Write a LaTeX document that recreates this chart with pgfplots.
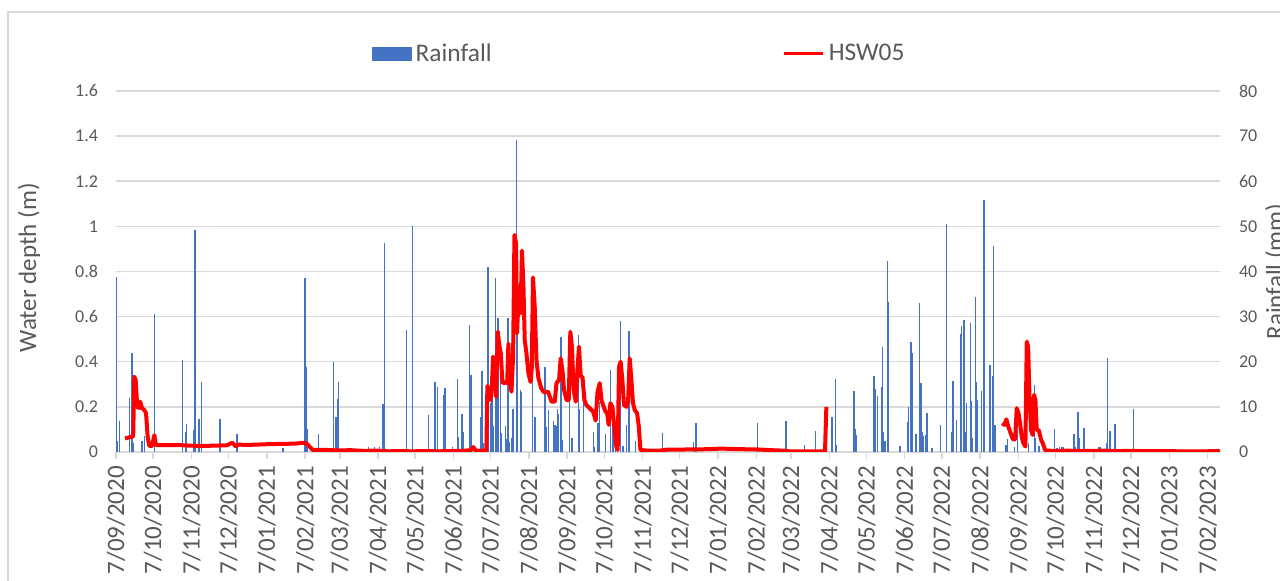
\documentclass[border=0pt]{standalone}
\usepackage{fontspec}
\setmainfont{Carlito}
\usepackage{pgfplots}
\pgfplotsset{compat=1.18}
\definecolor{rainblue}{HTML}{4472C4}
\definecolor{gridgray}{HTML}{D9D9D9}
\definecolor{txtgray}{HTML}{595959}
\begin{document}
\begin{tikzpicture}[x=1pt,y=1pt]
\useasboundingbox (0,0) rectangle (640,290.5);
\draw[gridgray, line width=1pt] (4,-20) -- (4,284.5) -- (700,284.5);
\begin{axis}[
  at={(58pt,64.5pt)}, anchor=south west,
  scale only axis, width=552pt, height=180.5pt,
  xmin=0, xmax=893, ymin=0, ymax=80,
  axis x line*=bottom, axis y line*=right,
  x axis line style={gridgray, line width=0.75pt},
  y axis line style={draw=none},
  tick align=outside, major tick length=3.5pt,
  xtick={0,30,61,91,122,153,181,212,242,273,303,334,365,395,426,456,487,518,546,577,607,638,668,699,730,760,791,821,852,883},
  xticklabels={7/09/2020,7/10/2020,7/11/2020,7/12/2020,7/01/2021,7/02/2021,7/03/2021,7/04/2021,7/05/2021,7/06/2021,7/07/2021,7/08/2021,7/09/2021,7/10/2021,7/11/2021,7/12/2021,7/01/2022,7/02/2022,7/03/2022,7/04/2022,7/05/2022,7/06/2022,7/07/2022,7/08/2022,7/09/2022,7/10/2022,7/11/2022,7/12/2022,7/01/2023,7/02/2023},
  xtick style={gridgray, line width=0.75pt},
  ytick={0,10,20,30,40,50,60,70,80}, ytick style={draw=none},
  ymajorgrids, grid style={gridgray, line width=0.75pt},
  xticklabel style={rotate=90, anchor=east, font=\fontsize{12.5}{12.5}\selectfont, text=txtgray},
  yticklabel style={font=\fontsize{9}{9}\selectfont, text=txtgray, xshift=2.5pt},
  /pgf/number format/assume math mode=true,
  ylabel={Rainfall (mm)},
  ylabel style={at={(rel axis cs:1.0507,0.5)}, anchor=center, rotate=0, font=\fontsize{12.5}{12.5}\selectfont, text=txtgray},
]
\addplot[ycomb, rainblue, line width=0.7pt, mark=none] coordinates {
(0,38.8) (1,2.4) (3,6.9) (11,12) (13,22) (14,2) (21,2.4) (23,3.5) (31,30.6)
(54,20.4) (56,4.4) (57,6.2) (63,4.9) (64,49.2) (67,7.3) (69,15.5) (84,7.3) (98,4) (135,0.8)
(153,38.6) (154,18.8) (155,5) (164,4) (176,20) (178,7.8) (179,11.7) (180,15.5) (204,1.2) (209,1) (213,1.2)
(216,10.6) (217,46.3) (235,27) (240,50) (253,8.2) (258,15.5) (260,14.4) (265,12.6) (266,14.2) (272,1)
(276,16.2) (277,3.3) (280,8.4) (281,4.4) (286,28.2) (287,17) (295,7.8) (296,18) (297,2)
(301,41) (303,10.8) (304,16.2) (305,5.8) (307,38.6) (308,12) (309,29.7) (311,22) (312,4.2)
(315,5.8) (316,2.9) (317,29.7) (318,2.2) (320,3.1) (321,9.5) (324,69.2) (325,26) (327,13.8) (328,13.4)
(337,19.7) (339,7.8) (347,18.8) (348,5.5) (350,9.3) (354,6.9) (355,6) (356,5.8) (357,9.5) (358,8.4)
(360,25.5) (361,2.7) (367,13.3) (369,3.1) (374,26) (375,9.5) (378,11.3) (386,4.4) (387,1) (390,6.4) (391,11)
(396,4) (400,18.2) (402,8.2) (404,3.8) (408,29) (410,1.3) (413,6) (415,26.8) (420,2.4) (442,4.2)
(467,2.2) (469,6.4) (519,6.4) (542,6.9) (557,1.5) (566,4.6) (579,7.8) (582,16.2) (583,1.5)
(597,13.5) (598,5) (599,3.8) (613,16.9) (614,14) (616,12.5) (619,14.4) (620,23.3) (621,4.4) (622,2.4)
(624,42.3) (625,33.3) (634,1.3) (640,6.6) (641,10) (643,24.4) (644,22) (647,4) (650,33) (651,15.3)
(652,4.4) (653,3.5) (655,3.8) (656,8.6) (660,0.8) (667,6) (672,50.6) (676,4.4) (677,15.7) (680,7)
(683,26.2) (684,28) (686,29.3) (687,4.4) (688,10.9) (691,28.6) (692,11.3) (693,3.1) (695,34.4) (696,15.5)
(697,11.5) (700,13.5) (702,55.9) (707,19.3) (709,16.9) (710,45.7) (711,6) (720,1.5) (721,2.9) (727,1)
(729,5) (738,2.1) (743,14.9) (744,3.1) (746,1.3) (747,1.3) (759,5) (761,0.8) (763,1) (765,1.2) (766,1.2)
(775,4) (776,1) (778,8.8) (779,3) (783,5.3) (795,1) (796,1.2) (801,2) (802,20.8) (804,4.6) (808,6.2)
(823,9.5) (856,0.7)
};
\end{axis}
\begin{axis}[
  at={(58pt,64.5pt)}, anchor=south west,
  scale only axis, width=552pt, height=180.5pt,
  xmin=0, xmax=893, ymin=0, ymax=1.6,
  axis x line=none, axis y line*=left,
  y axis line style={draw=none},
  tick align=outside, major tick length=3.5pt,
  ytick={0,0.2,0.4,0.6,0.8,1,1.2,1.4,1.6}, ytick style={draw=none},
  yticklabels={0,0.2,0.4,0.6,0.8,1,1.2,1.4,1.6},
  yticklabel style={font=\fontsize{9}{9}\selectfont, text=txtgray, xshift=-2pt},
  ylabel={Water depth (m)},
  ylabel style={at={(rel axis cs:-0.0788,0.51)}, anchor=center, font=\fontsize{12.5}{12.5}\selectfont, text=txtgray},
  legend columns=2,
  legend style={draw=none, fill=none, at={(0.2260,1.1025)}, anchor=west,
    font=\fontsize{12.7}{12.7}\selectfont, text=txtgray,
    /tikz/every even column/.append style={column sep=143.5pt}},
]
\addlegendimage{legend image code/.code={\fill[rainblue] (0pt,-3.25pt) rectangle (19.5pt,3.25pt);}}
\addlegendentry{Rainfall}
\addplot[red, line width=2pt, mark=none, line join=round,
  legend image code/.code={\draw[red, line width=1.5pt] (0pt,0pt) -- (19.5pt,0pt);}] coordinates {
(7.3,0.06) (12.7,0.068) (13.9,0.068) (14.8,0.334) (15.9,0.32) (17.2,0.2) (18.6,0.195) (19.6,0.223)
(21,0.195) (22.9,0.186) (24.3,0.172) (25.6,0.068) (26.9,0.027) (29.3,0.027) (31,0.075) (32.3,0.031)
(40,0.03) (50,0.031) (60,0.028) (70,0.027) (80,0.028) (90,0.03) (94,0.041) (97,0.025) (99,0.033)
(105,0.031) (115,0.033) (125,0.035) (135,0.036) (145,0.037) (150,0.04) (153,0.04) (155,0.033) (159,0.009)
(170,0.009) (180,0.007) (190,0.008) (200,0.005) (210,0.006) (220,0.003) (230,0.004) (240,0.003)
(250,0.004) (260,0.003) (270,0.004) (280,0.005) (287,0.008) (289,0.022) (291,0.006) (299.6,0.006)
(300.4,0.293) (301.7,0.253) (303,0.23) (304,0.29) (305,0.422) (306.2,0.41) (307.4,0.245) (308.8,0.533)
(310.2,0.467) (311.2,0.44) (312.6,0.31) (313.7,0.305) (315.3,0.31) (316.4,0.305) (317.4,0.48) (318.5,0.31)
(319.9,0.267) (321.2,0.42) (322.3,0.962) (323.6,0.925) (324.4,0.526) (326,0.733) (327.2,0.615) (328.4,0.892)
(329.6,0.733) (330.6,0.497) (332,0.437) (333.6,0.349) (335.3,0.31) (336.3,0.37) (337.3,0.774) (338.7,0.644)
(340.1,0.408) (341.7,0.327) (344,0.282) (346.1,0.265) (349.5,0.267) (352.3,0.223) (354.9,0.223) (356.3,0.305)
(358.4,0.32) (359.7,0.415) (361.2,0.36) (362.4,0.275) (364.4,0.23) (366.2,0.23) (367.5,0.533) (368.8,0.467)
(370.2,0.275) (371.9,0.223) (373.2,0.36) (374.5,0.467) (375.9,0.334) (377.3,0.334) (378.9,0.23) (380.5,0.208)
(383.2,0.194) (385.9,0.179) (388,0.139) (389.5,0.267) (391.3,0.305) (392.7,0.23) (394,0.208) (396,0.179)
(397.3,0.172) (398.5,0.12) (399.9,0.216) (401.5,0.2) (402.8,0.127) (404.7,0.024) (405.8,0.009) (406.9,0.378)
(408.2,0.4) (409.6,0.32) (410.9,0.208) (412.9,0.2) (414.2,0.223) (415.5,0.415) (416.9,0.32) (418.2,0.216)
(419.6,0.186) (421.5,0.172) (422.9,0.112) (424.2,0.009) (430,0.006) (440,0.006) (445,0.01) (460,0.011)
(475,0.012) (490,0.015) (500,0.013) (510,0.012) (520,0.011) (530,0.008) (540,0.006) (545,0.003)
(555,0.003) (565,0.003) (573.5,0.003) (574.6,0.2)
};
\addlegendentry{HSW05}
\addplot[red, line width=2pt, mark=none, line join=round, forget plot] coordinates {
(716.8,0.127) (718.7,0.12) (720.2,0.145) (721.8,0.112) (723.7,0.083) (725.5,0.056) (727.3,0.056)
(728.6,0.194) (730,0.172) (731.3,0.127) (732.6,0.068) (734,0.038) (735.6,0.024) (736.7,0.489)
(737.8,0.467) (738.9,0.245) (740.2,0.097) (741.5,0.075) (742.6,0.253) (743.7,0.23) (744.8,0.097)
(746.4,0.097) (748.4,0.053) (749.7,0.038) (751.8,0.006) (760,0.005) (770,0.006) (780,0.004)
(790,0.005) (800,0.006) (810,0.004) (820,0.005) (830,0.004) (840,0.004) (850,0.004) (860,0.003)
(870,0.003) (880,0.003) (892,0.004) (893,0.008)
};
\end{axis}
\end{tikzpicture}
\end{document}
